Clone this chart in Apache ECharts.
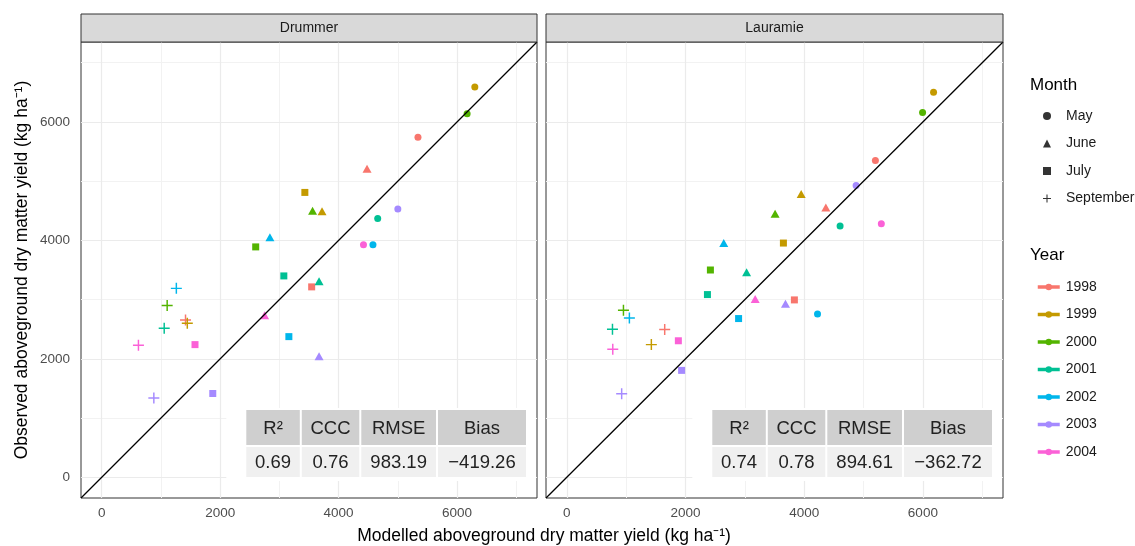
<!DOCTYPE html>
<html><head><meta charset="utf-8">
<script src="https://cdn.jsdelivr.net/npm/echarts@6/dist/echarts.min.js"></script>
<style>html,body{margin:0;padding:0;background:#fff}#c{width:1135px;height:546px}</style>
</head><body><div id="c"></div>
<script>
// ---- data ----
const years = ['1998', '1999', '2000', '2001', '2002', '2003', '2004'];
const yearColors = ['#F8766D', '#C49A00', '#53B400', '#00C094', '#00B6EB', '#A58AFF', '#FB61D7'];
const months = ['May', 'June', 'July', 'September'];
const sites = ['Drummer', 'Lauramie'];

// [modelled, observed] per year (1998..2004)
const drummerMay  = [[5340, 5740], [6300, 6590], [6170, 6140], [4660, 4370], [4580, 3925], [5000, 4530], [4420, 3925]];
const drummerJune = [[4480, 5210], [3720, 4490], [3560, 4500], [3670, 3310], [2840, 4055], [3670, 2045], [2750, 2735]];
const drummerJuly = [[3545, 3215], [3430, 4810], [2600, 3890], [3075, 3400], [3160, 2375], [1875, 1415], [1575, 2240]];
const drummerSep  = [[1415, 2655], [1445, 2600], [1105, 2900], [1055, 2515], [1260, 3190], [880, 1340], [620, 2230]];

const lauramieMay  = [[5200, 5350], [6180, 6500], [5995, 6160], [4605, 4245], [4225, 2755], [4875, 4925], [5300, 4280]];
const lauramieJune = [[4365, 4555], [3950, 4785], [3510, 4450], [3030, 3460], [2645, 3955], [3685, 2930], [3175, 3010]];
const lauramieJuly = [[3835, 2995], [3650, 3955], [2420, 3500], [2370, 3085], [2895, 2680], [1935, 1805], [1880, 2305]];
const lauramieSep  = [[1650, 2495], [1425, 2240], [955, 2820], [770, 2500], [1055, 2690], [925, 1410], [775, 2160]];

const axisMin = -350, axisMax = 7350;
const majorTicks = [0, 2000, 4000, 6000];
const minorTicks = [1000, 3000, 5000, 7000];

const statNames = ['R²', 'CCC', 'RMSE', 'Bias'];
const drummerStats = ['0.69', '0.76', '983.19', '\u2212419.26'];
const lauramieStats = ['0.74', '0.78', '894.61', '\u2212362.72'];

// ---- layout / style ----
const siteData = [[drummerMay, drummerJune, drummerJuly, drummerSep], [lauramieMay, lauramieJune, lauramieJuly, lauramieSep]];
const siteStats = [drummerStats, lauramieStats];
const grids = [{left: 81, top: 42, width: 456, height: 456}, {left: 546, top: 42, width: 457, height: 456}];
const plusPath = 'path://M0,5.2H12V6.8H0Z M5.2,0H6.8V12H5.2Z';
const monthSymbols = ['circle', 'triangle', 'rect', plusPath];
const monthSizes = [7, [9, 8], 7, 11];
const FONT = 'Liberation Sans, Arial, Helvetica, sans-serif';

const chart = echarts.init(document.getElementById('c'), null, {renderer: 'canvas'});

const xAxes = [], yAxes = [], series = [];
grids.forEach((g, i) => {
  xAxes.push({
    gridIndex: i, type: 'value', min: axisMin, max: axisMax,
    axisLine: {show: false},
    axisTick: {show: true, length: 3, customValues: majorTicks, lineStyle: {color: '#333', width: 1}},
    axisLabel: {show: true, customValues: majorTicks, margin: 8, color: '#4d4d4d', fontSize: 13.5, fontFamily: FONT, formatter: v => String(v)},
    splitLine: {show: false}
  });
  yAxes.push({
    gridIndex: i, type: 'value', min: axisMin, max: axisMax,
    axisLine: {show: false},
    axisTick: {show: i === 0, length: 3, customValues: majorTicks, lineStyle: {color: '#333', width: 1}},
    axisLabel: {show: i === 0, customValues: majorTicks, margin: 11, color: '#4d4d4d', fontSize: 13.5, fontFamily: FONT, formatter: v => String(v)},
    splitLine: {show: false}
  });
  // grid lines
  const ml = [];
  minorTicks.forEach(v => { ml.push({xAxis: v, lineStyle: {color: '#f2f2f2', width: 1, type: 'solid'}}); ml.push({yAxis: v, lineStyle: {color: '#f2f2f2', width: 1, type: 'solid'}}); });
  majorTicks.forEach(v => { ml.push({xAxis: v, lineStyle: {color: '#ebebeb', width: 1.2, type: 'solid'}}); ml.push({yAxis: v, lineStyle: {color: '#ebebeb', width: 1.2, type: 'solid'}}); });
  series.push({
    type: 'line', name: 'grid' + i, xAxisIndex: i, yAxisIndex: i, data: [], z: 1, silent: true,
    markLine: {silent: true, z: 1, symbol: ['none', 'none'], label: {show: false}, data: ml, animation: false}
  });
  // points
  years.forEach((yr, yi) => {
    series.push({
      type: 'scatter', name: sites[i] + ' ' + yr, xAxisIndex: i, yAxisIndex: i, z: 3,
      itemStyle: {color: yearColors[yi], opacity: 1},
      data: months.map((m, mi) => ({
        value: siteData[i][mi][yi], symbol: monthSymbols[mi], symbolSize: monthSizes[mi]
      }))
    });
  });
  // 1:1 line
  series.push({
    type: 'line', name: 'oneToOne' + i, xAxisIndex: i, yAxisIndex: i, z: 5, silent: true,
    symbol: 'none', lineStyle: {color: '#000', width: 1.3},
    data: [[axisMin, axisMin], [axisMax, axisMax]]
  });
});

// legend dummies
months.forEach((m, mi) => {
  series.push({type: 'scatter', name: m, xAxisIndex: 0, yAxisIndex: 0, data: [], symbol: monthSymbols[mi], symbolKeepAspect: true, itemStyle: {color: '#000'}});
});
years.forEach((yr, yi) => {
  series.push({type: 'line', name: yr, xAxisIndex: 0, yAxisIndex: 0, data: [], symbol: 'circle', symbolSize: 6,
    itemStyle: {color: yearColors[yi]}, lineStyle: {color: yearColors[yi], width: 3.5}});
});

// graphics: strips, titles, tables
const graphic = [];
grids.forEach((g, i) => {
  graphic.push({type: 'rect', z: 50, shape: {x: g.left, y: 14, width: g.width, height: 28}, style: {fill: '#d9d9d9', stroke: '#333', lineWidth: 1}});
  graphic.push({type: 'text', z: 51, x: g.left + g.width / 2, y: 28.5, style: {text: sites[i], fill: '#1a1a1a', font: '14px ' + FONT, align: 'center', verticalAlign: 'middle'}});
  // table
  const colW = [53.5, 57.5, 74.7, 88];
  const gap = 2, headH = 35, bodyH = 30;
  const right = g.left + g.width - 11;
  const bottom = g.top + g.height - 21;
  const totalW = colW.reduce((a, b) => a + b, 0) + gap * (colW.length - 1);
  const left = right - totalW;
  const top = bottom - bodyH - gap - headH;
  graphic.push({type: 'rect', z: 60, shape: {x: left - 20, y: top - 2, width: g.left + g.width - 1 - (left - 20), height: headH + bodyH + gap + 6}, style: {fill: '#ffffff'}});
  let cx = left;
  colW.forEach((w, ci) => {
    graphic.push({type: 'rect', z: 61, shape: {x: cx, y: top, width: w, height: headH}, style: {fill: '#cfcfcf'}});
    graphic.push({type: 'rect', z: 61, shape: {x: cx, y: top + headH + gap, width: w, height: bodyH}, style: {fill: '#f0f0f0'}});
    graphic.push({type: 'text', z: 62, x: cx + w / 2, y: top + headH / 2 + 1, style: {text: statNames[ci], fill: '#222', font: '18.5px ' + FONT, align: 'center', verticalAlign: 'middle'}});
    graphic.push({type: 'text', z: 62, x: cx + w / 2, y: top + headH + gap + bodyH / 2 + 1, style: {text: siteStats[i][ci], fill: '#222', font: '18.5px ' + FONT, align: 'center', verticalAlign: 'middle'}});
    cx += w + gap;
  });
});
graphic.push({type: 'text', x: 544, y: 536, style: {text: 'Modelled aboveground dry matter yield (kg ha\u207B\u00B9)', fill: '#000', font: '17.5px ' + FONT, align: 'center', verticalAlign: 'middle'}});
graphic.push({type: 'text', x: 22, y: 270, rotation: Math.PI / 2, style: {text: 'Observed aboveground dry matter yield (kg ha\u207B\u00B9)', fill: '#000', font: '17.5px ' + FONT, align: 'center', verticalAlign: 'middle'}});
graphic.push({type: 'text', x: 1030, y: 85, style: {text: 'Month', fill: '#000', font: '17px ' + FONT, align: 'left', verticalAlign: 'middle'}});
graphic.push({type: 'text', x: 1030, y: 255, style: {text: 'Year', fill: '#000', font: '17px ' + FONT, align: 'left', verticalAlign: 'middle'}});

const option = {
  animation: false,
  backgroundColor: '#ffffff',
  grid: grids.map(g => Object.assign({show: true, borderColor: '#333', borderWidth: 1, backgroundColor: '#fff', containLabel: false}, g)),
  xAxis: xAxes,
  yAxis: yAxes,
  legend: [
    {data: months, orient: 'vertical', left: 1038, top: 104, itemWidth: 8, itemHeight: 8, itemGap: 13.5, selectedMode: false, symbolKeepAspect: true,
      textStyle: {fontSize: 14, color: '#1a1a1a', fontFamily: FONT, lineHeight: 14, padding: [0, 0, 0, 10]}},
    {data: years, orient: 'vertical', left: 1031, top: 275, itemWidth: 22, itemHeight: 8, itemGap: 13.5, selectedMode: false,
      lineStyle: {width: 3.5}, textStyle: {fontSize: 14, color: '#1a1a1a', fontFamily: FONT, lineHeight: 14, padding: [0, 0, 0, 1]}}
  ],
  series: series,
  graphic: graphic
};
chart.setOption(option);
</script>
</body></html>
